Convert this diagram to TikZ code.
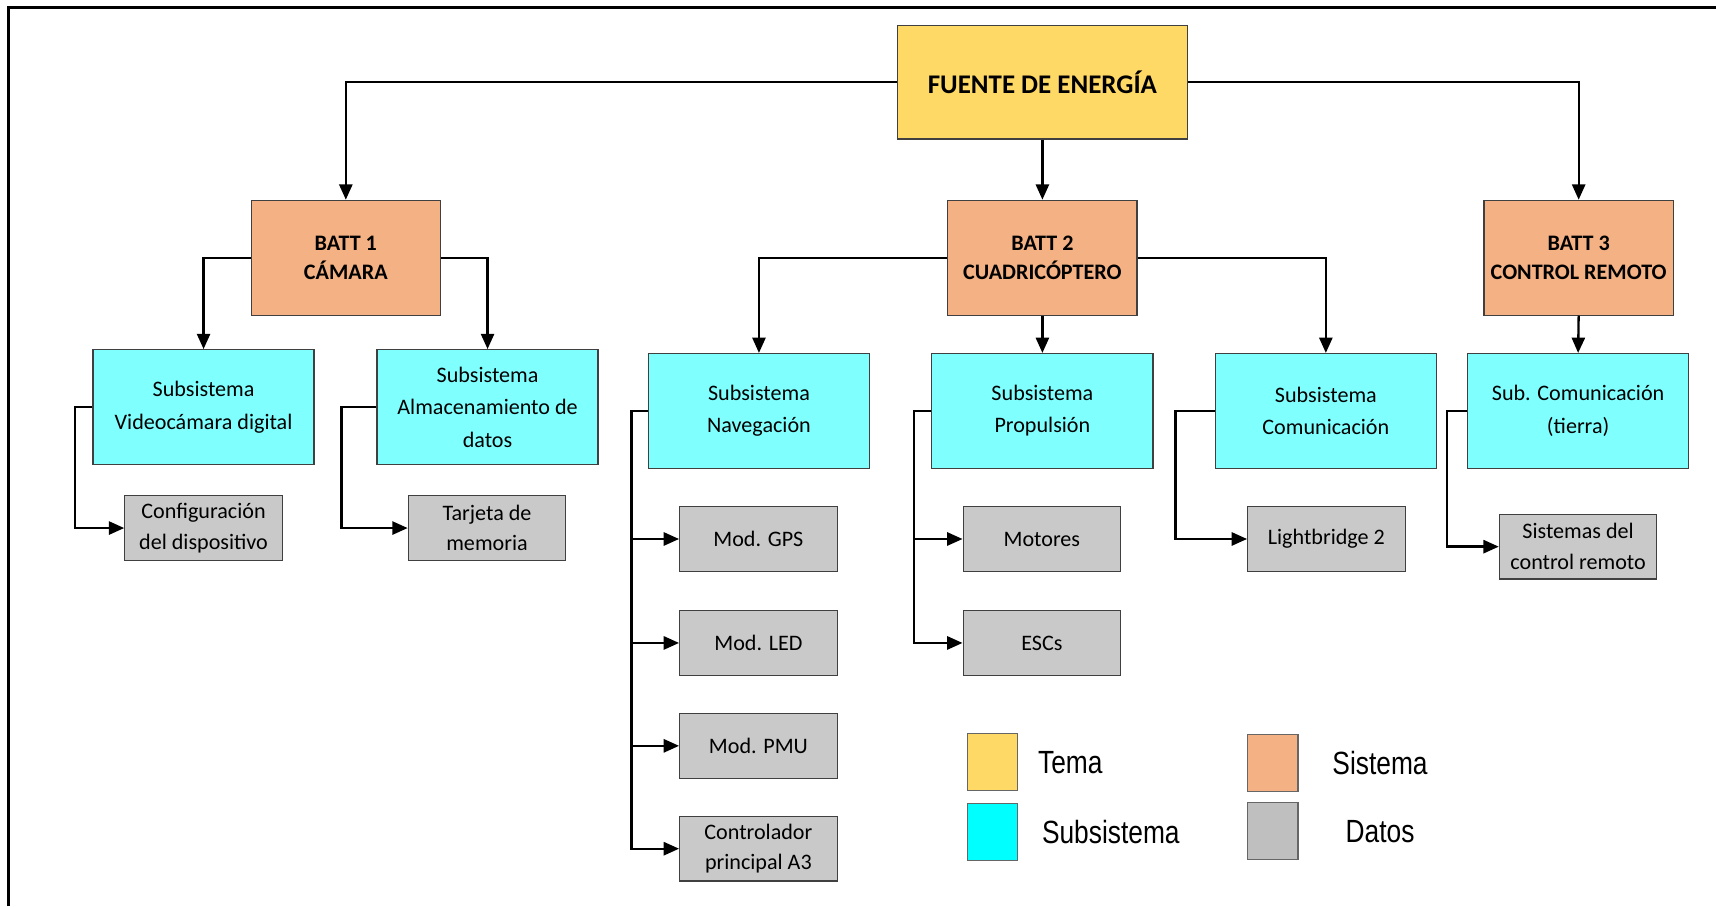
\documentclass[tikz,border=0pt]{standalone}
\usepackage{fontspec}
\setmainfont{Carlito}
\newfontfamily\legendfont[FakeStretch=0.82]{Liberation Sans}
\usetikzlibrary{arrows.meta}

\definecolor{temacol}{HTML}{FFD966}
\definecolor{sistcol}{HTML}{F4B183}
\definecolor{subcol}{HTML}{80FFFF}
\definecolor{datcol}{HTML}{C9C9C9}
\definecolor{legsubcol}{HTML}{00FFFF}
\definecolor{legdatcol}{HTML}{BFBFBF}

\tikzset{
  box/.style={draw=black!75, line width=0.6pt, align=center, inner sep=2pt,
    font=\fontsize{11.5}{16.8}\selectfont},
  tema/.style={box, fill=temacol, minimum width=5.3cm, minimum height=2.08cm,
    font=\fontsize{14}{17}\selectfont\bfseries},
  sistema/.style={box, fill=sistcol, minimum width=3.46cm, minimum height=2.1cm,
    font=\fontsize{11.5}{15.4}\selectfont\bfseries},
  subsis/.style={box, fill=subcol, minimum width=4.04cm, minimum height=2.1cm},
  datos/.style={box, fill=datcol, minimum width=2.88cm, minimum height=1.18cm,
    font=\fontsize{11.5}{15.9}\selectfont},
  swatch/.style={draw=black!60, line width=0.6pt, minimum width=0.92cm, minimum height=1.04cm},
  leyenda/.style={font=\legendfont\fontsize{16.7}{20}\selectfont},
  arr/.style={-{Triangle[length=0.28cm,width=0.24cm]}, line width=1.2pt}
}

\begin{document}
\begin{tikzpicture}[x=0.02cm, y=-0.02cm]
\useasboundingbox (0,0) rectangle (1568,828);
% marco
\draw[line width=1.6pt] (8,828) -- (8,7) -- (1568,7);

% fuente y baterias
\node[tema] (fuente) at (952.5,75) {FUENTE DE ENERGÍA};
\node[sistema] (batt1) at (316,235.5) {BATT 1\\CÁMARA};
\node[sistema] (batt2) at (952.5,235.5) {BATT 2\\CUADRICÓPTERO};
\node[sistema] (batt3) at (1442.5,235.5) {BATT 3\\CONTROL REMOTO};

% subsistemas
\node[subsis] (subvideo) at (186,372) {Subsistema\\Videocámara digital};
\node[subsis] (subalm) at (445.5,372) {Subsistema\\Almacenamiento de\\datos};
\node[subsis] (subnav) at (693.5,375.5) {Subsistema\\Navegación};
\node[subsis] (subprop) at (952.5,375.5) {Subsistema\\Propulsión};
\node[subsis] (subcom) at (1211.5,375.5) {Subsistema\\Comunicación};
\node[subsis] (subtierra) at (1442,375.5) {Sub. Comunicación\\(tierra)};

% datos
\node[datos] (config) at (186,482.5) {Configuración\\del dispositivo};
\node[datos] (tarjeta) at (445,482.5) {Tarjeta de\\memoria};
\node[datos] (gps) at (693,492.5) {Mod. GPS};
\node[datos] (led) at (693,587.5) {Mod. LED};
\node[datos] (pmu) at (693,681.5) {Mod. PMU};
\node[datos] (ctrl) at (693,775.5) {Controlador\\principal A3};
\node[datos] (motores) at (952,492.5) {Motores};
\node[datos] (escs) at (952,587.5) {ESCs};
\node[datos] (light) at (1212,492.5) {Lightbridge 2};
\node[datos] (sistrem) at (1442,499.5) {Sistemas del\\control remoto};

% conexiones
\draw[arr] (fuente.west) -| (batt1.north);
\draw[arr] (fuente.south) -- (batt2.north);
\draw[arr] (fuente.east) -| (batt3.north);

\draw[arr] (batt1.west) -| (subvideo.north);
\draw[arr] (batt1.east) -| (subalm.north);
\draw[arr] (batt2.west) -| (subnav.north);
\draw[arr] (batt2.south) -- (subprop.north);
\draw[arr] (batt2.east) -| (subcom.north);
\draw[arr] (batt3.south) -- (subtierra.north);

\draw[arr] (subvideo.west) -- ++(-16,0) |- (config.west);
\draw[arr] (subalm.west) -- ++(-32,0) |- (tarjeta.west);
\foreach \d in {gps,led,pmu,ctrl}
  \draw[arr] (subnav.west) -- ++(-15,0) |- (\d.west);
\foreach \d in {motores,escs}
  \draw[arr] (subprop.west) -- ++(-16,0) |- (\d.west);
\draw[arr] (subcom.west) -- ++(-36,0) |- (light.west);
\draw[arr] (subtierra.west) -- ++(-18,0) |- (sistrem.west);

% leyenda
\node[swatch, fill=temacol] (legtema) at (907,696) {};
\node[swatch, fill=legsubcol] (legsub) at (907,760.5) {};
\node[swatch, fill=sistcol] (legsist) at (1163,697) {};
\node[swatch, fill=legdatcol] (legdat) at (1163,759) {};
\node[leyenda] (txttema) at (978,697) {Tema};
\node[leyenda] (txtsub) at (1015,760) {Subsistema};
\node[leyenda] (txtsist) at (1261,697) {Sistema};
\node[leyenda] (txtdat) at (1261,760) {Datos};
\end{tikzpicture}
\end{document}
